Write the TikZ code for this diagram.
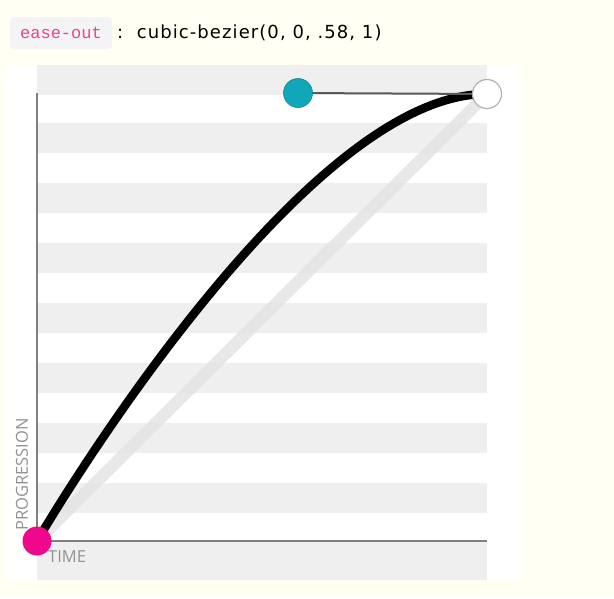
\documentclass[tikz,border=0pt]{standalone}
\usepackage{fontspec}
\setmainfont{DejaVu Sans}
\newfontfamily\codefont{Liberation Mono}
\newfontfamily\titlefont[LetterSpace=6]{DejaVu Sans}
\newfontfamily\labelfont{Open Sans}
\definecolor{cream}{HTML}{FFFFF3}
\definecolor{stripe}{HTML}{F0EFF0}
\definecolor{codebg}{HTML}{F4F4F6}
\definecolor{codepink}{HTML}{E8448F}
\definecolor{teal}{HTML}{10A8B8}
\definecolor{pinkdot}{HTML}{F0088C}
\definecolor{axisgray}{HTML}{808080}
\definecolor{labgray}{HTML}{929292}
\definecolor{diaggray}{HTML}{E4E4E4}
\tikzset{
  x=1pt, y=-1pt,
  stripebar/.style={fill=stripe, draw=none},
  axisline/.style={draw=axisgray, line width=1.4pt},
  dot/.style={circle, minimum size=29pt, inner sep=0pt},
  lbl/.style={text=labgray, font=\labelfont\fontsize{16.5}{16.5}\selectfont, inner sep=0pt}
}
\begin{document}
\begin{tikzpicture}
\useasboundingbox (0,0) rectangle (614,598);
\fill[cream] (0,0) rectangle (614,598);
% panel
\fill[white] (6,65) rectangle (520,580);
% stripes
\foreach \y in {65,123,183,243,303,363,423,483} {
  \fill[stripebar] (37,\y) rectangle (487,\y+30);
}
\fill[stripebar] (37,541) rectangle (487,580);
% title
\node[fill=codebg, rounded corners=4pt, minimum width=102pt, minimum height=32pt, inner sep=0pt,
      text=codepink, font=\codefont\fontsize{17}{17}\selectfont] (code) at (61,33) {ease-out};
\node[anchor=west, inner sep=0pt, font=\titlefont\fontsize{18}{18}\selectfont] (title) at (117,33) {:\ \ cubic-bezier(0, 0, .58, 1)};
% axes
\coordinate (top) at (37,93);
\coordinate (origin) at (37,541);
\coordinate (right) at (487,541);
\draw[axisline] (top) -- (origin) -- (right);
% labels
\node[lbl, rotate=90, anchor=west] (prog) at (22,531) {PROGRESSION};
\node[lbl, anchor=west] (time) at (48,557) {TIME};
% points
\coordinate (p0) at (37,541);
\coordinate (p2) at (298,93);
\coordinate (p3) at (487,94);
% diagonal reference
\draw[diaggray, line width=12pt, opacity=0.85] (p0) -- (p3);
% curve
\draw[black, line width=8.5pt] (p0) .. controls (p0) and (p2) .. (p3);
% control handle
\draw[draw=black!65, line width=2pt] (p2) -- (p3);
\node[dot, fill=teal, draw=teal!80!black, line width=0.6pt] (ctrl) at (p2) {};
\node[dot, fill=white, draw=black!30, line width=1.2pt] (endpt) at (p3) {};
\node[dot, fill=pinkdot] (startpt) at (p0) {};
\end{tikzpicture}
\end{document}
